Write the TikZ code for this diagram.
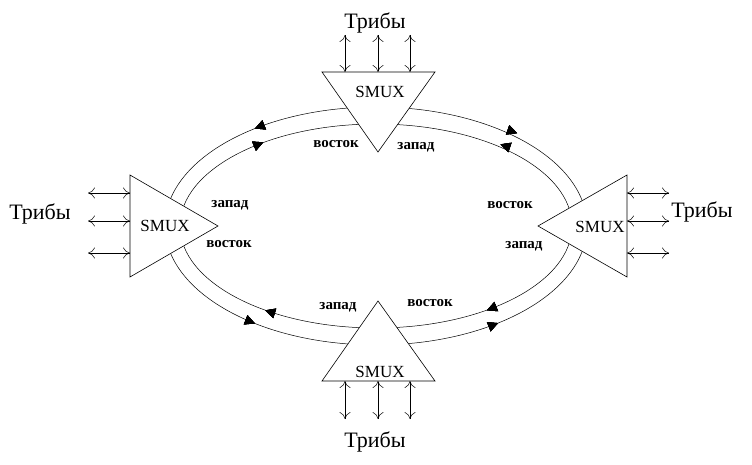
\documentclass[tikz,border=0pt]{standalone}
\usepackage{fontspec}
\setmainfont{Liberation Serif}
\usetikzlibrary{arrows.meta,decorations.markings}
\begin{document}
\begin{tikzpicture}[x=1pt,y=1pt,
  tri/.style={draw,fill=white,line width=0.6pt},
  io/.style={{To[length=7pt,width=11pt]}-{To[length=7pt,width=11pt]},line width=0.5pt},
  fw/.style={postaction={decorate},decoration={markings,mark=at position #1 with {\arrow{Triangle[length=10pt,width=10pt]}}}},
  bw/.style={postaction={decorate},decoration={markings,mark=at position #1 with {\arrow{Triangle[length=10pt,width=10pt,reversed]}}}},
  lbl/.style={font=\fontsize{15}{17}\selectfont\bfseries},
  trib/.style={font=\fontsize{22}{24}\selectfont},
  smux/.style={font=\fontsize{17}{20}\selectfont}]
\useasboundingbox (0,0) rectangle (752,464);
\coordinate (c) at (376,238);
% outer ring
\path[draw,line width=0.5pt,fw=0.367,bw=0.123,fw=0.633,fw=0.868] (c) ellipse [x radius=211,y radius=119];
% inner ring
\path[draw,line width=0.5pt,bw=0.38,fw=0.118,bw=0.643,bw=0.878] (c) ellipse [x radius=196,y radius=102];
% triangles
\draw[tri] (322,392) -- (435,392) -- (378,312) -- cycle;
\draw[tri] (322,83) -- (435,83) -- (378,163) -- cycle;
\draw[tri] (130,289) -- (130,187) -- (218,238) -- cycle;
\draw[tri] (627,289) -- (627,187) -- (538,238) -- cycle;
\node[smux] (st) at (380,372) {SMUX};
\node[smux] (sb) at (380,92) {SMUX};
\node[smux] (sl) at (165,238) {SMUX};
\node[smux] (sr) at (600,237) {SMUX};
% io arrows
\foreach \x in {345,378,410}{
  \coordinate (ta\x) at (\x,429); \coordinate (tb\x) at (\x,392);
  \draw[io] (ta\x) -- (tb\x);
  \coordinate (ba\x) at (\x,83); \coordinate (bb\x) at (\x,45);
  \draw[io] (ba\x) -- (bb\x);}
\foreach \y in {271,243,211}{
  \coordinate (la\y) at (88,\y); \coordinate (lb\y) at (130,\y);
  \draw[io] (la\y) -- (lb\y);
  \coordinate (ra\y) at (627,\y); \coordinate (rb\y) at (669,\y);
  \draw[io] (ra\y) -- (rb\y);}
\node[trib] (t1) at (375,441) {Трибы};
\node[trib] (t2) at (375,22) {Трибы};
\node[trib] (t3) at (40,250) {Трибы};
\node[trib] (t4) at (702,252) {Трибы};
\node[lbl] (a1) at (336,320) {восток};
\node[lbl] (a2) at (416,317) {запад};
\node[lbl] (a3) at (230,259) {запад};
\node[lbl] (a4) at (229,220) {восток};
\node[lbl] (a5) at (510,259) {восток};
\node[lbl] (a6) at (524,218) {запад};
\node[lbl] (a7) at (338,157) {запад};
\node[lbl] (a8) at (430,161) {восток};
\end{tikzpicture}
\end{document}
